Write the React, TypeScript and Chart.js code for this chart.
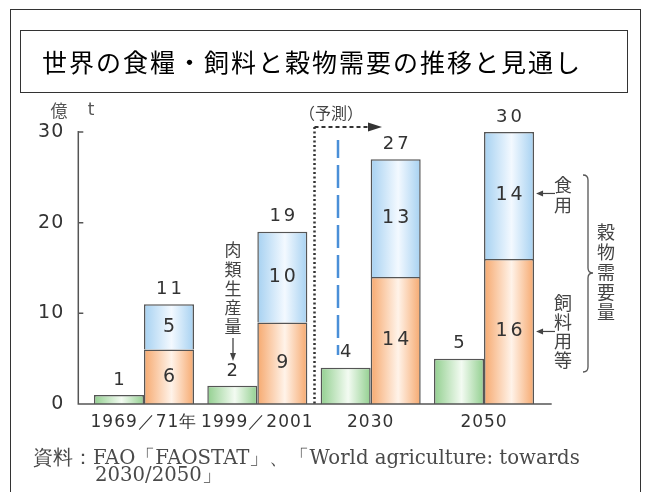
import { useEffect, useRef } from 'react';
import { Chart, registerables } from 'chart.js';

Chart.register(...registerables);

// Demand figures in 億t
const categories = ['1969／71年', '1999／2001', '2030', '2050'];
const meatProduction = [1, 2, 4, 5];
const feedUse = [6, 9, 14, 16];
const foodUse = [5, 10, 13, 14];
const grainTotal = [11, 19, 27, 30];
const yTicks = [0, 10, 20, 30];

const titleText = '世界の食糧・飼料と穀物需要の推移と見通し';
const unitText = ['億', 't'];
const forecastText = '（予測）';
const meatNote = ['肉', '類', '生', '産', '量'];
const foodNote = ['食', '用'];
const feedNote = ['飼', '料', '用', '等'];
const demandNote = ['穀', '物', '需', '要', '量'];
const sourceLines = ['資料：FAO「FAOSTAT」、「World agriculture: towards', '2030/2050」'];

const NUM_FONT = '"DejaVu Sans", sans-serif';
const JP_FONT = '"Noto Sans CJK JP", sans-serif';
const SERIF_FONT = '"DejaVu Serif", serif';
const INK = '#333';
const LINE = '#555';

const CAT_PCT = 100 / 113.3;

const fills = {
  meat: { edge: '#92cf8f', light: '#f3fbf2' },
  feed: { edge: '#f6a96f', light: '#fff3e9' },
  food: { edge: '#a6d1f1', light: '#f3f9ff' },
};

function shadedFill(kind: keyof typeof fills, side: -1 | 1) {
  return (c: any) => {
    const chart = c.chart;
    const x = chart.scales?.x;
    const { edge, light } = fills[kind];
    if (!x || typeof c.dataIndex !== 'number') return edge;
    const center = x.getPixelForValue(c.dataIndex);
    const w = (x.width / categories.length) * CAT_PCT / 2;
    const left = side < 0 ? center - w : center;
    if (!Number.isFinite(left) || !Number.isFinite(w) || w <= 0) return edge;
    const g = chart.ctx.createLinearGradient(left, 0, left + w, 0);
    g.addColorStop(0, edge);
    g.addColorStop(0.55, light);
    g.addColorStop(1, edge);
    return g;
  };
}

function spacedText(ctx: CanvasRenderingContext2D, text: string, x: number, y: number, spacing: number) {
  ctx.letterSpacing = `${spacing}px`;
  ctx.fillText(text, x + (ctx.textAlign === 'center' ? spacing / 2 : 0), y);
  ctx.letterSpacing = '0px';
}

function verticalText(ctx: CanvasRenderingContext2D, chars: string[], x: number, y0: number, step: number) {
  chars.forEach((ch, i) => ctx.fillText(ch, x, y0 + i * step));
}

function leftArrow(ctx: CanvasRenderingContext2D, x1: number, x0: number, y: number) {
  ctx.beginPath();
  ctx.moveTo(x1, y);
  ctx.lineTo(x0 + 5, y);
  ctx.stroke();
  ctx.beginPath();
  ctx.moveTo(x0, y);
  ctx.lineTo(x0 + 7, y - 3);
  ctx.lineTo(x0 + 7, y + 3);
  ctx.closePath();
  ctx.fill();
}

const axisText = {
  id: 'axisText',
  beforeDraw(chart: any) {
    chart.ctx.letterSpacing = '1px';
  },
  beforeDatasetsDraw(chart: any) {
    chart.ctx.letterSpacing = '0px';
  },
};

const valueLabels = {
  id: 'valueLabels',
  afterDatasetsDraw(chart: any) {
    const { ctx } = chart;
    const meat = chart.getDatasetMeta(0).data;
    const feed = chart.getDatasetMeta(1).data;
    const food = chart.getDatasetMeta(2).data;
    ctx.save();
    ctx.fillStyle = INK;
    ctx.textAlign = 'center';
    ctx.textBaseline = 'middle';
    ctx.font = `18px ${NUM_FONT}`;
    meat.forEach((b: any, i: number) => spacedText(ctx, String(meatProduction[i]), b.x, b.y - 15, 3));
    food.forEach((b: any, i: number) => spacedText(ctx, String(grainTotal[i]), b.x, b.y - 15, 3));
    ctx.font = `19px ${NUM_FONT}`;
    feed.forEach((b: any, i: number) => spacedText(ctx, String(feedUse[i]), b.x, (b.y + b.base) / 2, 3));
    food.forEach((b: any, i: number) => spacedText(ctx, String(foodUse[i]), b.x, (b.y + b.base) / 2, 3));
    ctx.restore();
  },
};

const frameAndNotes = {
  id: 'frameAndNotes',
  afterDraw(chart: any) {
    const { ctx, chartArea: area, scales } = chart;
    const xs = scales.x;
    const ys = scales.y;
    ctx.save();

    // outer frame and title box
    ctx.strokeStyle = '#333';
    ctx.lineWidth = 1;
    ctx.strokeRect(10.5, 9.5, 630, 520);
    ctx.strokeRect(20.5, 30.5, 607, 62);
    ctx.fillStyle = '#000';
    ctx.font = `25px ${JP_FONT}`;
    ctx.textAlign = 'left';
    ctx.textBaseline = 'middle';
    spacedText(ctx, titleText, 42, 62, 2);

    // axes
    const axisX = area.left - 9;
    ctx.strokeStyle = LINE;
    ctx.lineWidth = 1.5;
    ctx.beginPath();
    ctx.moveTo(axisX, ys.getPixelForValue(yTicks[yTicks.length - 1]) - 1);
    ctx.lineTo(axisX, area.bottom);
    ctx.lineTo(area.right + 11, area.bottom);
    yTicks.forEach((t) => {
      const y = ys.getPixelForValue(t);
      ctx.moveTo(axisX, y);
      ctx.lineTo(axisX + 5, y);
    });
    ctx.stroke();

    // unit
    ctx.fillStyle = '#555';
    ctx.font = `17px ${JP_FONT}`;
    ctx.textAlign = 'center';
    ctx.fillText(unitText[0], 59, 111);
    ctx.font = `17px ${NUM_FONT}`;
    ctx.fillText(unitText[1], 91, 111);

    // forecast marker between the 2001 and 2030 groups
    const splitX = Math.round((xs.getPixelForValue(1) + xs.getPixelForValue(2)) / 2) + 0.5;
    ctx.strokeStyle = '#333';
    ctx.lineWidth = 2.5;
    ctx.setLineDash([2, 2.5]);
    ctx.beginPath();
    ctx.moveTo(splitX, 127);
    ctx.lineTo(splitX, area.bottom);
    ctx.stroke();
    ctx.lineWidth = 2;
    ctx.setLineDash([4, 3]);
    ctx.beginPath();
    ctx.moveTo(splitX, 127);
    ctx.lineTo(369, 127);
    ctx.stroke();
    ctx.setLineDash([]);
    ctx.fillStyle = '#333';
    ctx.beginPath();
    ctx.moveTo(382, 127);
    ctx.lineTo(368, 122.5);
    ctx.lineTo(368, 131.5);
    ctx.closePath();
    ctx.fill();
    ctx.fillStyle = '#444';
    ctx.font = `16px ${JP_FONT}`;
    ctx.fillText(forecastText, 331, 113);

    // blue dashed guide
    ctx.strokeStyle = '#4a8fd8';
    ctx.lineWidth = 2.5;
    ctx.setLineDash([23, 7]);
    ctx.lineDashOffset = 5;
    ctx.beginPath();
    ctx.moveTo(338, 140);
    ctx.lineTo(338, 355);
    ctx.stroke();
    ctx.setLineDash([]);
    ctx.lineDashOffset = 0;

    // meat production note
    ctx.fillStyle = '#444';
    ctx.font = `17px ${JP_FONT}`;
    verticalText(ctx, meatNote, 233, 250, 19.2);
    ctx.strokeStyle = '#444';
    ctx.lineWidth = 1.3;
    ctx.beginPath();
    ctx.moveTo(233, 338);
    ctx.lineTo(233, 354);
    ctx.stroke();
    ctx.beginPath();
    ctx.moveTo(233, 361);
    ctx.lineTo(230, 353);
    ctx.lineTo(236, 353);
    ctx.closePath();
    ctx.fill();

    // food / feed notes on the 2050 stack
    const last = categories.length - 1;
    const barRight = xs.getPixelForValue(last) + (xs.width / categories.length) * CAT_PCT / 2;
    const foodY = ys.getPixelForValue(feedUse[last] + foodUse[last] / 2);
    const feedY = ys.getPixelForValue(feedUse[last] / 2);
    ctx.font = `18px ${JP_FONT}`;
    verticalText(ctx, foodNote, 563, 185, 20);
    verticalText(ctx, feedNote, 563, 303, 19);
    ctx.strokeStyle = '#444';
    ctx.fillStyle = '#444';
    ctx.lineWidth = 1.2;
    leftArrow(ctx, 555, barRight + 2, foodY - 2);
    leftArrow(ctx, 555, barRight + 2, feedY);

    // brace
    const bx = 588;
    const top = 175;
    const bottom = 372;
    const mid = 273;
    ctx.strokeStyle = LINE;
    ctx.lineWidth = 1.3;
    ctx.beginPath();
    ctx.moveTo(bx - 5, top);
    ctx.quadraticCurveTo(bx, top, bx, top + 5);
    ctx.lineTo(bx, mid - 5);
    ctx.quadraticCurveTo(bx, mid, bx + 5, mid);
    ctx.quadraticCurveTo(bx, mid, bx, mid + 5);
    ctx.lineTo(bx, bottom - 5);
    ctx.quadraticCurveTo(bx, bottom, bx - 5, bottom);
    ctx.stroke();
    ctx.fillStyle = '#444';
    ctx.font = `18px ${JP_FONT}`;
    verticalText(ctx, demandNote, 606, 232, 20);

    // source
    ctx.fillStyle = '#4a4a4a';
    ctx.textAlign = 'left';
    ctx.font = `15px ${SERIF_FONT}`;
    const w = ctx.measureText(sourceLines[0]).width;
    const size = 15 * 545 / w;
    ctx.font = `${size.toFixed(2)}px ${SERIF_FONT}`;
    ctx.fillText(sourceLines[0], 33, 459);
    ctx.fillText(sourceLines[1], 95, 476);

    ctx.restore();
  },
};

export default function App() {
  const canvasRef = useRef<HTMLCanvasElement>(null);

  useEffect(() => {
    const canvas = canvasRef.current;
    if (!canvas) return;
    const chart = new Chart(canvas, {
      type: 'bar',
      data: {
        labels: categories,
        datasets: [
          {
            label: '肉類生産量',
            data: meatProduction,
            stack: 'meat',
            backgroundColor: shadedFill('meat', -1),
            borderColor: LINE,
            borderWidth: 1.5,
          },
          {
            label: '飼料用等',
            data: feedUse,
            stack: 'grain',
            backgroundColor: shadedFill('feed', 1),
            borderColor: LINE,
            borderWidth: 1.5,
          },
          {
            label: '食用',
            data: foodUse,
            stack: 'grain',
            backgroundColor: shadedFill('food', 1),
            borderColor: LINE,
            borderWidth: 1.5,
          },
        ],
      },
      options: {
        responsive: false,
        animation: false,
        events: [],
        layout: { padding: { left: 0, right: 108.3, top: 132, bottom: 58 } },
        datasets: { bar: { categoryPercentage: CAT_PCT, barPercentage: 1 } },
        plugins: { legend: { display: false }, tooltip: { enabled: false }, title: { display: false } },
        scales: {
          x: {
            stacked: true,
            grid: { display: false, drawTicks: false },
            border: { display: false },
            ticks: { color: INK, font: { family: NUM_FONT, size: 17 }, padding: 8, maxRotation: 0, autoSkip: false },
            afterFit: (s: any) => { s.height = 30; },
          },
          y: {
            stacked: true,
            min: 0,
            max: 30,
            grid: { display: false, drawTicks: false },
            border: { display: false },
            ticks: { stepSize: 10, color: INK, font: { family: NUM_FONT, size: 19 }, padding: 23 },
            afterFit: (s: any) => { s.width = 87.3; },
          },
        },
      },
      plugins: [axisText, valueLabels, frameAndNotes],
    } as any);
    return () => chart.destroy();
  }, []);

  return (
    <div style={{ position: 'fixed', left: 0, top: 0, width: 649, height: 492, background: '#fff' }}>
      <canvas ref={canvasRef} width={649} height={492} style={{ display: 'block' }} />
    </div>
  );
}
